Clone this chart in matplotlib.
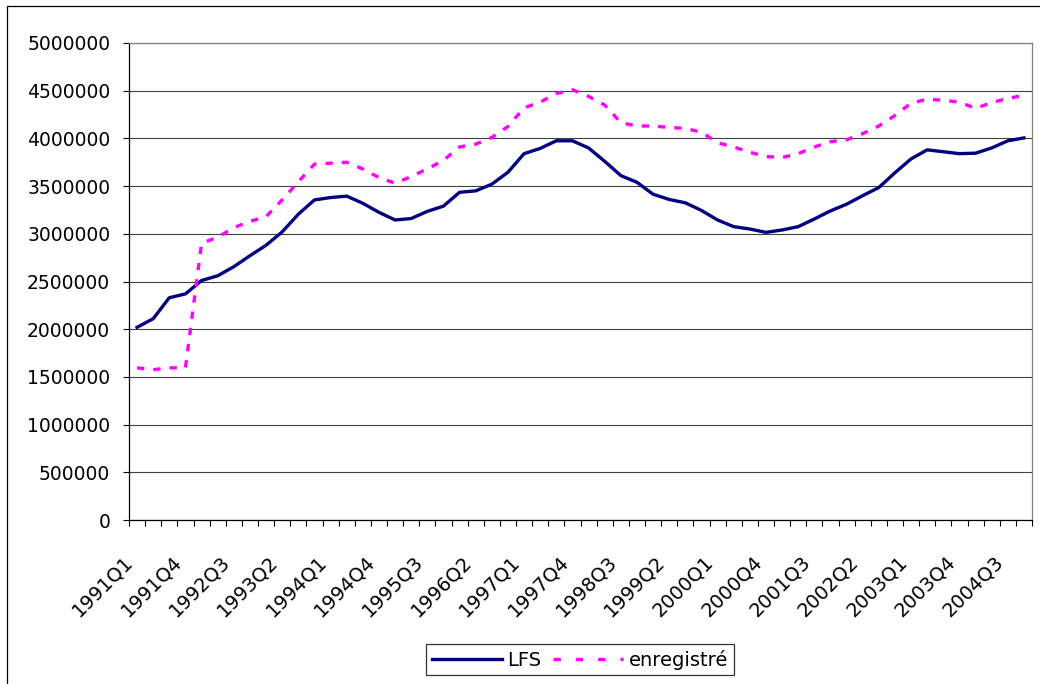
import matplotlib
matplotlib.use("Agg")
import matplotlib.pyplot as plt
import matplotlib.transforms as mtrans
from matplotlib.lines import Line2D
from matplotlib.patches import Rectangle

# ---------------- Données ---------------- #
trimestres = [f"{a}Q{q}" for a in range(1991, 2005) for q in range(1, 5)]

lfs = [2020000, 2110000, 2330000, 2370000, 2510000, 2560000, 2655000, 2770000,
       2880000, 3020000, 3205000, 3355000, 3380000, 3395000, 3320000, 3225000,
       3145000, 3160000, 3235000, 3290000, 3435000, 3450000, 3520000, 3645000,
       3840000, 3895000, 3975000, 3975000, 3900000, 3760000, 3610000, 3540000,
       3415000, 3360000, 3325000, 3245000, 3145000, 3075000, 3050000, 3015000,
       3040000, 3075000, 3155000, 3240000, 3310000, 3400000, 3485000, 3640000,
       3785000, 3880000, 3860000, 3840000, 3845000, 3900000, 3975000, 4005000]

enregistre = [1595000, 1575000, 1595000, 1595000, 2900000, 2965000, 3065000, 3130000,
              3180000, 3355000, 3545000, 3730000, 3740000, 3750000, 3680000, 3590000,
              3530000, 3600000, 3680000, 3770000, 3910000, 3940000, 4010000, 4125000,
              4320000, 4380000, 4470000, 4510000, 4440000, 4350000, 4165000, 4130000,
              4130000, 4115000, 4105000, 4065000, 3955000, 3910000, 3855000, 3810000,
              3800000, 3840000, 3910000, 3965000, 3985000, 4050000, 4130000, 4240000,
              4370000, 4410000, 4400000, 4380000, 4315000, 4375000, 4420000, 4450000]

y_ticks = list(range(0, 5000001, 500000))

# ---------------- Figure ---------------- #
W, H = 1040, 684
fig = plt.figure(figsize=(W / 100, H / 100), dpi=100)
ax = fig.add_axes([129 / W, 1 - 520 / H, (1032 - 129) / W, (520 - 43) / H])

x = list(range(len(trimestres)))
ax.plot(x, lfs, color="#000080", lw=2.4, solid_joinstyle="round", zorder=3)
ax.plot(x, enregistre, color="#FF00FF", lw=2.4, dashes=(2.2, 2.7),
        dash_capstyle="butt", zorder=3)

ax.set_xlim(-0.5, len(trimestres) - 0.5)
ax.set_ylim(0, 5000000)

ax.set_yticks(y_ticks)
ax.set_yticklabels([str(v) for v in y_ticks])
ax.yaxis.grid(True, color="#404040", lw=0.8)
ax.set_axisbelow(True)
ax.tick_params(axis="y", length=4.5, width=0.8, pad=9, labelsize=13.5)

lab_idx = x[::3]
ax.set_xticks(lab_idx)
ax.set_xticklabels([trimestres[i] for i in lab_idx], rotation=45,
                   ha="right", va="center", rotation_mode="anchor")
ax.set_xticks([i - 0.5 for i in range(len(trimestres) + 1)], minor=True)
ax.tick_params(axis="x", which="major", length=0, pad=28, labelsize=14)
ax.tick_params(axis="x", which="minor", length=4.5, width=0.8)
decal = mtrans.ScaledTranslation(-7 / 100, 0, fig.dpi_scale_trans)
for lab in ax.get_xticklabels():
    lab.set_transform(lab.get_transform() + decal)

for s in ["left", "bottom"]:
    ax.spines[s].set_color("black")
    ax.spines[s].set_linewidth(0.9)
for s in ["right", "top"]:
    ax.spines[s].set_color("#808080")
    ax.spines[s].set_linewidth(0.9)

# légende
h1 = Line2D([], [], color="#000080", lw=2.4)
h2 = Line2D([], [], color="#FF00FF", lw=2.4, dashes=(2.2, 4.5))
leg = fig.legend([h1, h2], ["LFS", "enregistré"], loc="center",
                 bbox_to_anchor=(580 / W, 1 - 659.5 / H), ncol=2, fontsize=14,
                 frameon=True, fancybox=False, handlelength=3.6,
                 handletextpad=0.3, columnspacing=0.6, borderpad=0.3)
leg.get_frame().set_edgecolor("black")
leg.get_frame().set_linewidth(0.9)

# cadre extérieur
fig.patches.append(Rectangle((7 / W, -0.1), 1.2, 1.1 - 6 / H, transform=fig.transFigure,
                             fill=False, edgecolor="black", lw=0.9))

fig.savefig("out.png", dpi=100)
